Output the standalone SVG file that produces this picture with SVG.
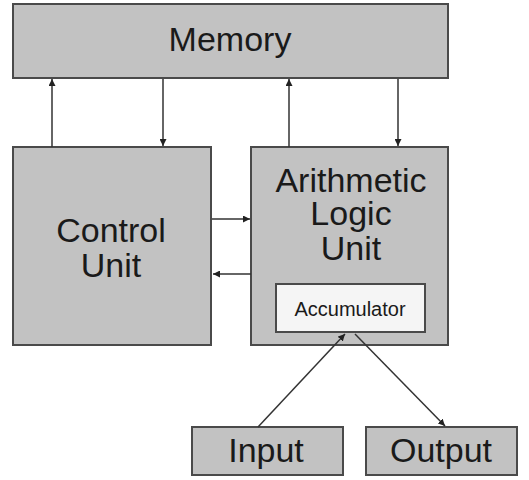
<svg xmlns="http://www.w3.org/2000/svg" width="529" height="480" viewBox="0 0 529 480">
<style>
.box{fill:#c2c2c2;stroke:#4a4a4a;stroke-width:2}
.acc{fill:#f5f5f5;stroke:#4a4a4a;stroke-width:2}
.lbl{font-family:"Liberation Sans",Arial,sans-serif;font-size:34px;fill:#1a1a1a;text-anchor:middle}
.sm{font-family:"Liberation Sans",Arial,sans-serif;font-size:20px;fill:#1a1a1a;text-anchor:middle}
.c{stroke:#333;stroke-width:1.5;fill:none;marker-end:url(#ah)}
</style>
<defs>
<marker id="ah" viewBox="0 0 10 10" refX="10" refY="5" markerWidth="7" markerHeight="7" orient="auto" markerUnits="userSpaceOnUse">
<path d="M0,0 L10,5 L0,10 z" fill="#222"/>
</marker>
</defs>
<rect width="529" height="480" fill="#fff"/>
<g id="memory"><rect class="box" x="13" y="4" width="435" height="74"/><text class="lbl" x="230" y="51">Memory</text></g>
<g id="control"><rect class="box" x="13" y="147" width="198" height="198"/><text class="lbl" x="111" y="242">Control</text><text class="lbl" x="111" y="277">Unit</text></g>
<g id="alu"><rect class="box" x="251" y="147" width="197" height="198"/><text class="lbl" x="351" y="192">Arithmetic</text><text class="lbl" x="351" y="225">Logic</text><text class="lbl" x="351" y="260">Unit</text></g>
<g id="accumulator"><rect class="acc" x="276" y="284" width="149" height="48"/><text class="sm" x="350" y="316">Accumulator</text></g>
<g id="input"><rect class="box" x="192" y="427" width="151" height="48"/><text class="lbl" x="266" y="462">Input</text></g>
<g id="output"><rect class="box" x="366" y="427" width="151" height="48"/><text class="lbl" x="441" y="462">Output</text></g>
<g id="connectors">
<line class="c" x1="52" y1="147" x2="52" y2="79"/>
<line class="c" x1="163" y1="79" x2="163" y2="146"/>
<line class="c" x1="289" y1="147" x2="289" y2="79"/>
<line class="c" x1="398" y1="79" x2="398" y2="146"/>
<line class="c" x1="212" y1="219" x2="250" y2="219"/>
<line class="c" x1="251" y1="274" x2="213" y2="274"/>
<line class="c" x1="258" y1="427" x2="345" y2="334"/>
<line class="c" x1="355" y1="334" x2="445" y2="426"/>
</g>
</svg>
